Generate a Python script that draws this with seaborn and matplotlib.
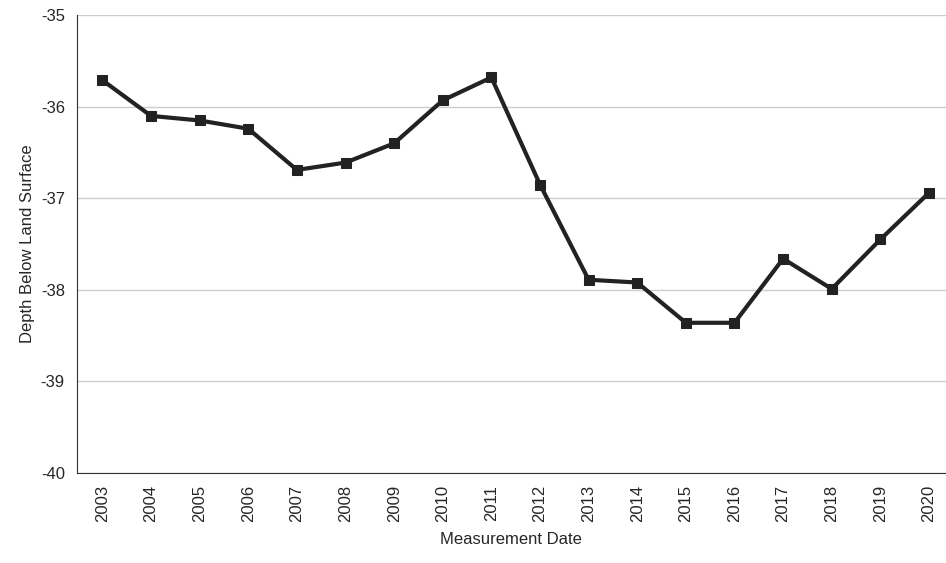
import matplotlib
matplotlib.use("Agg")
import matplotlib.pyplot as plt
import pandas as pd
import seaborn as sns

years = list(range(2003, 2021))
depth = [-35.71, -36.10, -36.15, -36.24, -36.69, -36.61, -36.40, -35.93, -35.68,
         -36.85, -37.89, -37.92, -38.36, -38.36, -37.66, -37.99, -37.45, -36.94]

df = pd.DataFrame({"year": years, "depth": depth})

sns.set_style("white")
plt.rcParams["font.family"] = ["Liberation Sans", "DejaVu Sans"]
plt.rcParams["axes.unicode_minus"] = False

fig = plt.figure(figsize=(9.46, 5.63), dpi=100)
ax = fig.add_axes([0.081, 0.16, 0.919, 0.813])
sns.lineplot(data=df, x="year", y="depth", ax=ax, color="#222222", linewidth=3,
             marker="s", markersize=7, markeredgecolor="#222222")
ax.set_xlim(2002.47, 2020.35)
ax.set_ylim(-40, -35)
ax.set_yticks([-40, -39, -38, -37, -36, -35])
ax.set_xticks(years)
ax.set_xticklabels([str(y) for y in years], rotation=90, fontsize=12)
ax.tick_params(axis="y", labelsize=12, length=5)
ax.tick_params(axis="x", length=5)
ax.grid(axis="y", color="#cccccc", linewidth=1)
for s in ["top", "right"]:
    ax.spines[s].set_visible(False)
ax.spines["left"].set_color("#333333")
ax.spines["bottom"].set_color("#333333")
ax.set_xlabel("Measurement Date", fontsize=12, labelpad=7)
ax.set_ylabel("Depth Below Land Surface", fontsize=12)
fig.savefig("out.png", dpi=100)
